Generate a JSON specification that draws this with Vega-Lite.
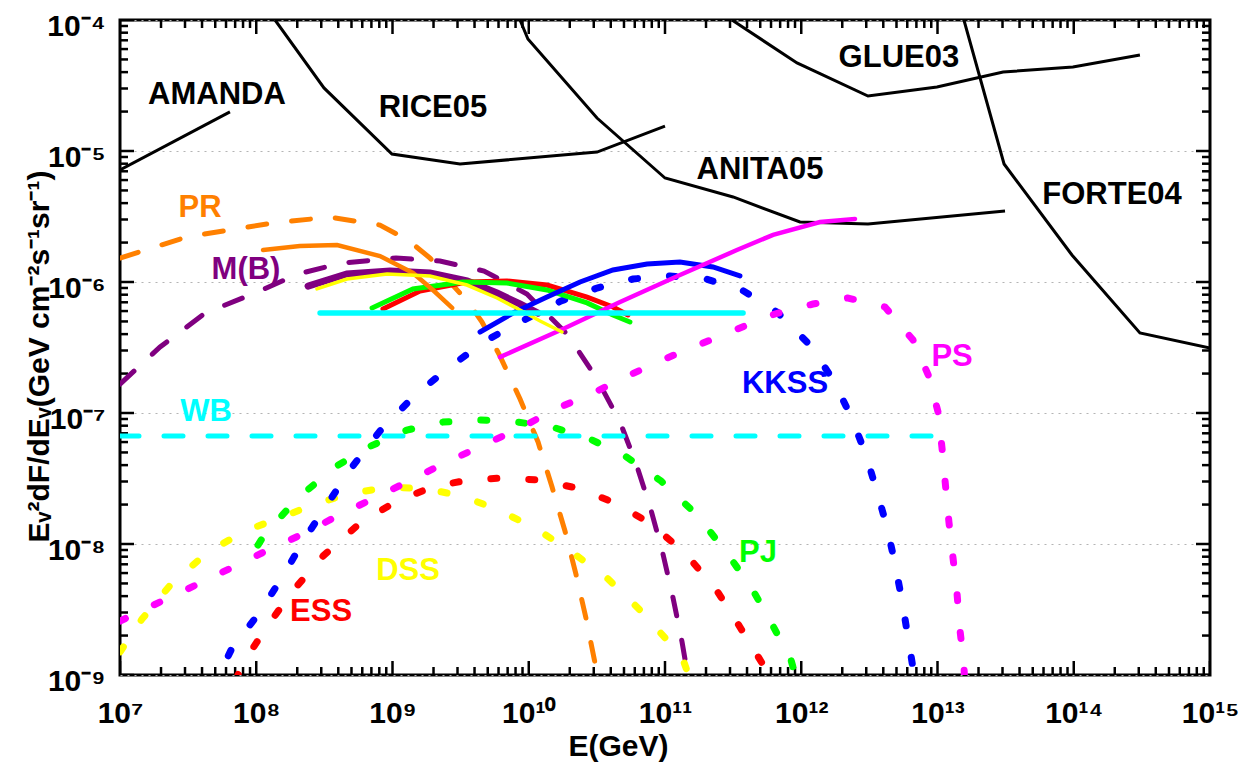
{
  "$schema": "https://vega.github.io/schema/vega-lite/v6.json",
  "width": 1090,
  "height": 655,
  "autosize": {"type": "none"},
  "padding": {"left": 120, "top": 20, "right": 38, "bottom": 94},
  "background": "white",
  "config": {"font": "Liberation Sans", "view": {"stroke": "black", "strokeWidth": 3}},
  "datasets": {
    "curves": [
      {"series": "AMANDA", "E": 1e7, "F": 7.16e-6},
      {"series": "AMANDA", "E": 6.41e7, "F": 1.99e-5},

      {"series": "RICE05", "E": 1.374e8, "F": 1e-4},
      {"series": "RICE05", "E": 3.14e8, "F": 3.03e-5},
      {"series": "RICE05", "E": 9.91e8, "F": 9.48e-6},
      {"series": "RICE05", "E": 3.13e9, "F": 7.96e-6},
      {"series": "RICE05", "E": 3.17e10, "F": 9.82e-6},
      {"series": "RICE05", "E": 1e11, "F": 1.55e-5},

      {"series": "ANITA05", "E": 8.63e9, "F": 1e-4},
      {"series": "ANITA05", "E": 9.86e9, "F": 7.16e-5},
      {"series": "ANITA05", "E": 3.17e10, "F": 1.786e-5},
      {"series": "ANITA05", "E": 1e11, "F": 6.22e-6},
      {"series": "ANITA05", "E": 3.16e11, "F": 4.46e-6},
      {"series": "ANITA05", "E": 9.79e11, "F": 2.87e-6},
      {"series": "ANITA05", "E": 3.09e12, "F": 2.77e-6},
      {"series": "ANITA05", "E": 3.13e13, "F": 3.48e-6},

      {"series": "GLUE03", "E": 3.10e11, "F": 1e-4},
      {"series": "GLUE03", "E": 9.31e11, "F": 4.70e-5},
      {"series": "GLUE03", "E": 3.09e12, "F": 2.63e-5},
      {"series": "GLUE03", "E": 9.91e12, "F": 3.08e-5},
      {"series": "GLUE03", "E": 3.03e13, "F": 4.01e-5},
      {"series": "GLUE03", "E": 9.86e13, "F": 4.38e-5},
      {"series": "GLUE03", "E": 3.06e14, "F": 5.41e-5},

      {"series": "FORTE04", "E": 1.563e13, "F": 1e-4},
      {"series": "FORTE04", "E": 3.08e13, "F": 7.96e-6},
      {"series": "FORTE04", "E": 9.70e13, "F": 1.607e-6},
      {"series": "FORTE04", "E": 3.06e14, "F": 4.08e-7},
      {"series": "FORTE04", "E": 1e15, "F": 3.13e-7},

      {"series": "PR dashed", "E": 1e7, "F": 1.524e-6},
      {"series": "PR dashed", "E": 3.10e7, "F": 2.21e-6},
      {"series": "PR dashed", "E": 1.327e8, "F": 2.82e-6},
      {"series": "PR dashed", "E": 3.48e8, "F": 3.13e-6},
      {"series": "PR dashed", "E": 8.09e8, "F": 2.72e-6},
      {"series": "PR dashed", "E": 1.30e9, "F": 2.09e-6},
      {"series": "PR dashed", "E": 1.884e9, "F": 1.524e-6},
      {"series": "PR dashed", "E": 2.64e9, "F": 1.0e-6},
      {"series": "PR dashed", "E": 3.58e9, "F": 7.03e-7},
      {"series": "PR dashed", "E": 4.54e9, "F": 4.95e-7},
      {"series": "PR dashed", "E": 6.15e9, "F": 2.72e-7},
      {"series": "PR dashed", "E": 8.63e9, "F": 1.28e-7},
      {"series": "PR dashed", "E": 1.170e10, "F": 6.01e-8},
      {"series": "PR dashed", "E": 1.483e10, "F": 2.72e-8},
      {"series": "PR dashed", "E": 1.845e10, "F": 1.256e-8},
      {"series": "PR dashed", "E": 2.22e10, "F": 5.90e-9},
      {"series": "PR dashed", "E": 2.63e10, "F": 2.72e-9},
      {"series": "PR dashed", "E": 3.17e10, "F": 1.035e-9},
      {"series": "PR dashed", "E": 3.33e10, "F": 7.67e-10},

      {"series": "M(B) dashed", "E": 1e7, "F": 1.663e-7},
      {"series": "M(B) dashed", "E": 1.968e7, "F": 3.19e-7},
      {"series": "M(B) dashed", "E": 4.21e7, "F": 5.79e-7},
      {"series": "M(B) dashed", "E": 9.79e7, "F": 8.24e-7},
      {"series": "M(B) dashed", "E": 2.02e8, "F": 1.151e-6},
      {"series": "M(B) dashed", "E": 4.26e8, "F": 1.396e-6},
      {"series": "M(B) dashed", "E": 1.062e9, "F": 1.524e-6},
      {"series": "M(B) dashed", "E": 2.23e9, "F": 1.445e-6},
      {"series": "M(B) dashed", "E": 4.70e9, "F": 1.213e-6},
      {"series": "M(B) dashed", "E": 9.70e9, "F": 8.09e-7},
      {"series": "M(B) dashed", "E": 1.941e10, "F": 3.94e-7},
      {"series": "M(B) dashed", "E": 3.17e10, "F": 1.82e-7},
      {"series": "M(B) dashed", "E": 4.68e10, "F": 8.53e-8},
      {"series": "M(B) dashed", "E": 6.22e10, "F": 3.94e-8},
      {"series": "M(B) dashed", "E": 7.89e10, "F": 1.82e-8},
      {"series": "M(B) dashed", "E": 9.66e10, "F": 8.39e-9},
      {"series": "M(B) dashed", "E": 1.146e11, "F": 3.87e-9},
      {"series": "M(B) dashed", "E": 1.334e11, "F": 1.786e-9},
      {"series": "M(B) dashed", "E": 1.426e11, "F": 1.19e-9},
      {"series": "M(B) dashed", "E": 1.476e11, "F": 7.67e-10},

      {"series": "WB dashed", "E": 1e7, "F": 6.67e-8},
      {"series": "WB dashed", "E": 9.1e12, "F": 6.67e-8},

      {"series": "ESS dashed", "E": 7.10e7, "F": 9.16e-10},
      {"series": "ESS dashed", "E": 7.85e7, "F": 1.19e-9},
      {"series": "ESS dashed", "E": 1.180e8, "F": 2.29e-9},
      {"series": "ESS dashed", "E": 1.828e8, "F": 4.31e-9},
      {"series": "ESS dashed", "E": 3.09e8, "F": 8.09e-9},
      {"series": "ESS dashed", "E": 5.68e8, "F": 1.422e-8},
      {"series": "ESS dashed", "E": 1.042e9, "F": 2.09e-8},
      {"series": "ESS dashed", "E": 1.950e9, "F": 2.72e-8},
      {"series": "ESS dashed", "E": 3.58e9, "F": 3.08e-8},
      {"series": "ESS dashed", "E": 6.47e9, "F": 3.19e-8},
      {"series": "ESS dashed", "E": 1.211e10, "F": 3.08e-8},
      {"series": "ESS dashed", "E": 2.26e10, "F": 2.67e-8},
      {"series": "ESS dashed", "E": 4.15e10, "F": 2.09e-8},
      {"series": "ESS dashed", "E": 7.76e10, "F": 1.445e-8},
      {"series": "ESS dashed", "E": 1.426e11, "F": 8.39e-9},
      {"series": "ESS dashed", "E": 2.41e11, "F": 4.38e-9},
      {"series": "ESS dashed", "E": 3.55e11, "F": 2.32e-9},
      {"series": "ESS dashed", "E": 5.15e11, "F": 1.236e-9},
      {"series": "ESS dashed", "E": 5.61e11, "F": 9.48e-10},

      {"series": "DSS dashed", "E": 1e7, "F": 1.50e-9},
      {"series": "DSS dashed", "E": 1.449e7, "F": 2.67e-9},
      {"series": "DSS dashed", "E": 2.41e7, "F": 5.04e-9},
      {"series": "DSS dashed", "E": 4.43e7, "F": 8.69e-9},
      {"series": "DSS dashed", "E": 8.26e7, "F": 1.256e-8},
      {"series": "DSS dashed", "E": 1.545e8, "F": 1.607e-8},
      {"series": "DSS dashed", "E": 2.84e8, "F": 2.06e-8},
      {"series": "DSS dashed", "E": 5.13e8, "F": 2.45e-8},
      {"series": "DSS dashed", "E": 9.59e8, "F": 2.72e-8},
      {"series": "DSS dashed", "E": 1.791e9, "F": 2.63e-8},
      {"series": "DSS dashed", "E": 3.29e9, "F": 2.32e-8},
      {"series": "DSS dashed", "E": 5.94e9, "F": 1.82e-8},
      {"series": "DSS dashed", "E": 1.112e10, "F": 1.324e-8},
      {"series": "DSS dashed", "E": 2.07e10, "F": 8.69e-9},
      {"series": "DSS dashed", "E": 3.82e10, "F": 5.41e-9},
      {"series": "DSS dashed", "E": 6.90e10, "F": 2.97e-9},
      {"series": "DSS dashed", "E": 1.183e11, "F": 1.578e-9},
      {"series": "DSS dashed", "E": 1.377e11, "F": 1.256e-9},
      {"series": "DSS dashed", "E": 1.578e11, "F": 8.39e-10},

      {"series": "PJ dashed", "E": 1.030e8, "F": 9.82e-9},
      {"series": "PJ dashed", "E": 1.159e8, "F": 1.191e-8},
      {"series": "PJ dashed", "E": 2.02e8, "F": 2.24e-8},
      {"series": "PJ dashed", "E": 3.78e8, "F": 3.87e-8},
      {"series": "PJ dashed", "E": 6.95e8, "F": 5.60e-8},
      {"series": "PJ dashed", "E": 1.276e9, "F": 7.41e-8},
      {"series": "PJ dashed", "E": 2.35e9, "F": 8.53e-8},
      {"series": "PJ dashed", "E": 4.39e9, "F": 8.85e-8},
      {"series": "PJ dashed", "E": 8.20e9, "F": 8.53e-8},
      {"series": "PJ dashed", "E": 1.483e10, "F": 7.82e-8},
      {"series": "PJ dashed", "E": 2.72e10, "F": 6.44e-8},
      {"series": "PJ dashed", "E": 5.09e10, "F": 4.70e-8},
      {"series": "PJ dashed", "E": 9.35e10, "F": 3.03e-8},
      {"series": "PJ dashed", "E": 1.718e11, "F": 1.663e-8},
      {"series": "PJ dashed", "E": 2.81e11, "F": 8.69e-9},
      {"series": "PJ dashed", "E": 4.28e11, "F": 4.70e-9},
      {"series": "PJ dashed", "E": 6.10e11, "F": 2.45e-9},
      {"series": "PJ dashed", "E": 8.41e11, "F": 1.303e-9},
      {"series": "PJ dashed", "E": 9.46e11, "F": 8.39e-10},

      {"series": "KKSS dashed", "E": 4.73e7, "F": 7.67e-10},
      {"series": "KKSS dashed", "E": 6.64e7, "F": 1.607e-9},
      {"series": "KKSS dashed", "E": 1.067e8, "F": 3.03e-9},
      {"series": "KKSS dashed", "E": 1.570e8, "F": 5.70e-9},
      {"series": "KKSS dashed", "E": 2.24e8, "F": 1.074e-8},
      {"series": "KKSS dashed", "E": 3.37e8, "F": 2.06e-8},
      {"series": "KKSS dashed", "E": 5.05e8, "F": 3.87e-8},
      {"series": "KKSS dashed", "E": 8.09e8, "F": 7.29e-8},
      {"series": "KKSS dashed", "E": 1.462e9, "F": 1.371e-7},
      {"series": "KKSS dashed", "E": 2.74e9, "F": 2.32e-7},
      {"series": "KKSS dashed", "E": 4.94e9, "F": 3.61e-7},
      {"series": "KKSS dashed", "E": 9.23e9, "F": 5.13e-7},
      {"series": "KKSS dashed", "E": 1.726e10, "F": 7.16e-7},
      {"series": "KKSS dashed", "E": 3.17e10, "F": 8.99e-7},
      {"series": "KKSS dashed", "E": 5.82e10, "F": 1.054e-6},
      {"series": "KKSS dashed", "E": 1.089e11, "F": 1.112e-6},
      {"series": "KKSS dashed", "E": 2.00e11, "F": 1.054e-6},
      {"series": "KKSS dashed", "E": 3.67e11, "F": 8.69e-7},
      {"series": "KKSS dashed", "E": 6.64e11, "F": 5.90e-7},
      {"series": "KKSS dashed", "E": 1.180e12, "F": 3.24e-7},
      {"series": "KKSS dashed", "E": 1.770e12, "F": 1.694e-7},
      {"series": "KKSS dashed", "E": 2.36e12, "F": 8.99e-8},
      {"series": "KKSS dashed", "E": 2.99e12, "F": 4.78e-8},
      {"series": "KKSS dashed", "E": 3.60e12, "F": 2.49e-8},
      {"series": "KKSS dashed", "E": 4.26e12, "F": 1.349e-8},
      {"series": "KKSS dashed", "E": 4.88e12, "F": 7.03e-9},
      {"series": "KKSS dashed", "E": 5.48e12, "F": 3.74e-9},
      {"series": "KKSS dashed", "E": 6.07e12, "F": 1.950e-9},
      {"series": "KKSS dashed", "E": 6.61e12, "F": 1.130e-9},
      {"series": "KKSS dashed", "E": 6.84e12, "F": 7.67e-10},

      {"series": "PS dashed", "E": 1e7, "F": 2.58e-9},
      {"series": "PS dashed", "E": 1.968e7, "F": 3.61e-9},
      {"series": "PS dashed", "E": 3.61e7, "F": 4.86e-9},
      {"series": "PS dashed", "E": 6.75e7, "F": 6.67e-9},
      {"series": "PS dashed", "E": 1.219e8, "F": 8.99e-9},
      {"series": "PS dashed", "E": 2.28e8, "F": 1.213e-8},
      {"series": "PS dashed", "E": 4.19e8, "F": 1.694e-8},
      {"series": "PS dashed", "E": 7.69e8, "F": 2.29e-8},
      {"series": "PS dashed", "E": 1.413e9, "F": 3.13e-8},
      {"series": "PS dashed", "E": 2.60e9, "F": 4.31e-8},
      {"series": "PS dashed", "E": 4.85e9, "F": 5.79e-8},
      {"series": "PS dashed", "E": 8.91e9, "F": 7.82e-8},
      {"series": "PS dashed", "E": 1.641e10, "F": 1.091e-7},
      {"series": "PS dashed", "E": 3.06e10, "F": 1.445e-7},
      {"series": "PS dashed", "E": 5.73e10, "F": 1.986e-7},
      {"series": "PS dashed", "E": 1.035e11, "F": 2.63e-7},
      {"series": "PS dashed", "E": 1.901e11, "F": 3.42e-7},
      {"series": "PS dashed", "E": 3.55e11, "F": 4.46e-7},
      {"series": "PS dashed", "E": 6.41e11, "F": 5.70e-7},
      {"series": "PS dashed", "E": 1.219e12, "F": 6.79e-7},
      {"series": "PS dashed", "E": 2.20e12, "F": 7.55e-7},
      {"series": "PS dashed", "E": 4.12e12, "F": 6.44e-7},
      {"series": "PS dashed", "E": 6.61e12, "F": 3.61e-7},
      {"series": "PS dashed", "E": 8.67e12, "F": 1.884e-7},
      {"series": "PS dashed", "E": 1.009e13, "F": 1.019e-7},
      {"series": "PS dashed", "E": 1.079e13, "F": 5.41e-8},
      {"series": "PS dashed", "E": 1.153e13, "F": 2.58e-8},
      {"series": "PS dashed", "E": 1.213e13, "F": 1.472e-8},
      {"series": "PS dashed", "E": 1.300e13, "F": 7.82e-9},
      {"series": "PS dashed", "E": 1.390e13, "F": 4.23e-9},
      {"series": "PS dashed", "E": 1.462e13, "F": 2.21e-9},
      {"series": "PS dashed", "E": 1.563e13, "F": 1.19e-9},
      {"series": "PS dashed", "E": 1.592e13, "F": 7.67e-10},

      {"series": "PR solid", "E": 1.122e8, "F": 1.754e-6},
      {"series": "PR solid", "E": 2.09e8, "F": 1.884e-6},
      {"series": "PR solid", "E": 3.92e8, "F": 1.914e-6},
      {"series": "PR solid", "E": 8.09e8, "F": 1.578e-6},
      {"series": "PR solid", "E": 1.413e9, "F": 1.172e-6},
      {"series": "PR solid", "E": 1.98e9, "F": 8.69e-7},
      {"series": "PR solid", "E": 2.74e9, "F": 6.34e-7},

      {"series": "M(B) solid", "E": 2.40e8, "F": 9.31e-7},
      {"series": "M(B) solid", "E": 4.63e8, "F": 1.151e-6},
      {"series": "M(B) solid", "E": 9.59e8, "F": 1.213e-6},
      {"series": "M(B) solid", "E": 1.884e9, "F": 1.172e-6},
      {"series": "M(B) solid", "E": 3.52e9, "F": 1.019e-6},
      {"series": "M(B) solid", "E": 5.85e9, "F": 8.24e-7},
      {"series": "M(B) solid", "E": 8.63e9, "F": 6.79e-7},
      {"series": "M(B) solid", "E": 1.170e10, "F": 5.79e-7},

      {"series": "DSS solid", "E": 2.79e8, "F": 8.85e-7},
      {"series": "DSS solid", "E": 4.63e8, "F": 1.054e-6},
      {"series": "DSS solid", "E": 9.12e8, "F": 1.151e-6},
      {"series": "DSS solid", "E": 1.884e9, "F": 1.112e-6},
      {"series": "DSS solid", "E": 3.52e9, "F": 9.48e-7},
      {"series": "DSS solid", "E": 5.85e9, "F": 7.55e-7},
      {"series": "DSS solid", "E": 8.63e9, "F": 6.11e-7},
      {"series": "DSS solid", "E": 1.211e10, "F": 5.04e-7},
      {"series": "DSS solid", "E": 1.754e10, "F": 4.15e-7},

      {"series": "ESS solid", "E": 8.51e8, "F": 6.22e-7},
      {"series": "ESS solid", "E": 1.592e9, "F": 8.53e-7},
      {"series": "ESS solid", "E": 3.52e9, "F": 1.0e-6},
      {"series": "ESS solid", "E": 6.92e9, "F": 1.019e-6},
      {"series": "ESS solid", "E": 1.361e10, "F": 9.48e-7},
      {"series": "ESS solid", "E": 2.68e10, "F": 7.67e-7},
      {"series": "ESS solid", "E": 4.15e10, "F": 6.44e-7},
      {"series": "ESS solid", "E": 5.35e10, "F": 5.60e-7},

      {"series": "PJ solid", "E": 7.08e8, "F": 6.34e-7},
      {"series": "PJ solid", "E": 1.413e9, "F": 8.85e-7},
      {"series": "PJ solid", "E": 3.29e9, "F": 1.0e-6},
      {"series": "PJ solid", "E": 6.92e9, "F": 9.82e-7},
      {"series": "PJ solid", "E": 1.361e10, "F": 8.69e-7},
      {"series": "PJ solid", "E": 2.68e10, "F": 6.92e-7},
      {"series": "PJ solid", "E": 4.15e10, "F": 5.60e-7},
      {"series": "PJ solid", "E": 5.53e10, "F": 4.95e-7},

      {"series": "KKSS solid", "E": 4.39e9, "F": 4.15e-7},
      {"series": "KKSS solid", "E": 7.66e9, "F": 5.79e-7},
      {"series": "KKSS solid", "E": 1.361e10, "F": 7.67e-7},
      {"series": "KKSS solid", "E": 2.38e10, "F": 1.0e-6},
      {"series": "KKSS solid", "E": 4.15e10, "F": 1.236e-6},
      {"series": "KKSS solid", "E": 7.38e10, "F": 1.371e-6},
      {"series": "KKSS solid", "E": 1.288e11, "F": 1.422e-6},
      {"series": "KKSS solid", "E": 2.25e11, "F": 1.303e-6},
      {"series": "KKSS solid", "E": 3.55e11, "F": 1.112e-6},

      {"series": "PS solid", "E": 6.15e9, "F": 2.67e-7},
      {"series": "PS solid", "E": 1.782e10, "F": 4.38e-7},
      {"series": "PS solid", "E": 4.68e10, "F": 7.03e-7},
      {"series": "PS solid", "E": 1.288e11, "F": 1.130e-6},
      {"series": "PS solid", "E": 3.37e11, "F": 1.754e-6},
      {"series": "PS solid", "E": 6.21e11, "F": 2.29e-6},
      {"series": "PS solid", "E": 1.374e12, "F": 2.87e-6},
      {"series": "PS solid", "E": 2.48e12, "F": 3.03e-6},

      {"series": "WB solid", "E": 2.94e8, "F": 5.79e-7},
      {"series": "WB solid", "E": 3.74e11, "F": 5.79e-7}
    ],
    "labels": [
      {"label": "AMANDA", "series": "AMANDA", "E": 5.15e7, "F": 2.67e-5},
      {"label": "RICE05", "series": "RICE05", "E": 1.98e9, "F": 2.13e-5},
      {"label": "ANITA05", "series": "ANITA05", "E": 4.98e11, "F": 7.16e-6},
      {"label": "GLUE03", "series": "GLUE03", "E": 5.21e12, "F": 5.13e-5},
      {"label": "FORTE04", "series": "FORTE04", "E": 1.91e14, "F": 4.61e-6},
      {"label": "PR", "series": "PR dashed", "E": 3.87e7, "F": 3.67e-6},
      {"label": "M(B)", "series": "M(B) dashed", "E": 8.41e7, "F": 1.24e-6},
      {"label": "WB", "series": "WB dashed", "E": 4.28e7, "F": 1.02e-7},
      {"label": "DSS", "series": "DSS dashed", "E": 1.30e9, "F": 6.22e-9},
      {"label": "ESS", "series": "ESS dashed", "E": 2.99e8, "F": 3.03e-9},
      {"label": "PJ", "series": "PJ dashed", "E": 4.82e11, "F": 8.53e-9},
      {"label": "KKSS", "series": "KKSS dashed", "E": 7.60e11, "F": 1.66e-7},
      {"label": "PS", "series": "PS dashed", "E": 1.28e13, "F": 2.67e-7}
    ],
    "xticks": [
      {"E": 1e7, "F": 1e-9, "kind": "major"}, {"E": 1e8, "F": 1e-9, "kind": "major"}, {"E": 1e9, "F": 1e-9, "kind": "major"}, {"E": 1e10, "F": 1e-9, "kind": "major"}, {"E": 1e11, "F": 1e-9, "kind": "major"}, {"E": 1e12, "F": 1e-9, "kind": "major"}, {"E": 1e13, "F": 1e-9, "kind": "major"}, {"E": 1e14, "F": 1e-9, "kind": "major"}, {"E": 1e15, "F": 1e-9, "kind": "major"},
      {"E": 1e7, "F": 1e-4, "kind": "major"}, {"E": 1e8, "F": 1e-4, "kind": "major"}, {"E": 1e9, "F": 1e-4, "kind": "major"}, {"E": 1e10, "F": 1e-4, "kind": "major"}, {"E": 1e11, "F": 1e-4, "kind": "major"}, {"E": 1e12, "F": 1e-4, "kind": "major"}, {"E": 1e13, "F": 1e-4, "kind": "major"}, {"E": 1e14, "F": 1e-4, "kind": "major"}, {"E": 1e15, "F": 1e-4, "kind": "major"},
      {"E": 2e7, "F": 1e-9, "kind": "minor"}, {"E": 3e7, "F": 1e-9, "kind": "minor"}, {"E": 4e7, "F": 1e-9, "kind": "minor"}, {"E": 5e7, "F": 1e-9, "kind": "minor"}, {"E": 6e7, "F": 1e-9, "kind": "minor"}, {"E": 7e7, "F": 1e-9, "kind": "minor"}, {"E": 8e7, "F": 1e-9, "kind": "minor"}, {"E": 9e7, "F": 1e-9, "kind": "minor"},
      {"E": 2e8, "F": 1e-9, "kind": "minor"}, {"E": 3e8, "F": 1e-9, "kind": "minor"}, {"E": 4e8, "F": 1e-9, "kind": "minor"}, {"E": 5e8, "F": 1e-9, "kind": "minor"}, {"E": 6e8, "F": 1e-9, "kind": "minor"}, {"E": 7e8, "F": 1e-9, "kind": "minor"}, {"E": 8e8, "F": 1e-9, "kind": "minor"}, {"E": 9e8, "F": 1e-9, "kind": "minor"},
      {"E": 2e9, "F": 1e-9, "kind": "minor"}, {"E": 3e9, "F": 1e-9, "kind": "minor"}, {"E": 4e9, "F": 1e-9, "kind": "minor"}, {"E": 5e9, "F": 1e-9, "kind": "minor"}, {"E": 6e9, "F": 1e-9, "kind": "minor"}, {"E": 7e9, "F": 1e-9, "kind": "minor"}, {"E": 8e9, "F": 1e-9, "kind": "minor"}, {"E": 9e9, "F": 1e-9, "kind": "minor"},
      {"E": 2e10, "F": 1e-9, "kind": "minor"}, {"E": 3e10, "F": 1e-9, "kind": "minor"}, {"E": 4e10, "F": 1e-9, "kind": "minor"}, {"E": 5e10, "F": 1e-9, "kind": "minor"}, {"E": 6e10, "F": 1e-9, "kind": "minor"}, {"E": 7e10, "F": 1e-9, "kind": "minor"}, {"E": 8e10, "F": 1e-9, "kind": "minor"}, {"E": 9e10, "F": 1e-9, "kind": "minor"},
      {"E": 2e11, "F": 1e-9, "kind": "minor"}, {"E": 3e11, "F": 1e-9, "kind": "minor"}, {"E": 4e11, "F": 1e-9, "kind": "minor"}, {"E": 5e11, "F": 1e-9, "kind": "minor"}, {"E": 6e11, "F": 1e-9, "kind": "minor"}, {"E": 7e11, "F": 1e-9, "kind": "minor"}, {"E": 8e11, "F": 1e-9, "kind": "minor"}, {"E": 9e11, "F": 1e-9, "kind": "minor"},
      {"E": 2e12, "F": 1e-9, "kind": "minor"}, {"E": 3e12, "F": 1e-9, "kind": "minor"}, {"E": 4e12, "F": 1e-9, "kind": "minor"}, {"E": 5e12, "F": 1e-9, "kind": "minor"}, {"E": 6e12, "F": 1e-9, "kind": "minor"}, {"E": 7e12, "F": 1e-9, "kind": "minor"}, {"E": 8e12, "F": 1e-9, "kind": "minor"}, {"E": 9e12, "F": 1e-9, "kind": "minor"},
      {"E": 2e13, "F": 1e-9, "kind": "minor"}, {"E": 3e13, "F": 1e-9, "kind": "minor"}, {"E": 4e13, "F": 1e-9, "kind": "minor"}, {"E": 5e13, "F": 1e-9, "kind": "minor"}, {"E": 6e13, "F": 1e-9, "kind": "minor"}, {"E": 7e13, "F": 1e-9, "kind": "minor"}, {"E": 8e13, "F": 1e-9, "kind": "minor"}, {"E": 9e13, "F": 1e-9, "kind": "minor"},
      {"E": 2e14, "F": 1e-9, "kind": "minor"}, {"E": 3e14, "F": 1e-9, "kind": "minor"}, {"E": 4e14, "F": 1e-9, "kind": "minor"}, {"E": 5e14, "F": 1e-9, "kind": "minor"}, {"E": 6e14, "F": 1e-9, "kind": "minor"}, {"E": 7e14, "F": 1e-9, "kind": "minor"}, {"E": 8e14, "F": 1e-9, "kind": "minor"}, {"E": 9e14, "F": 1e-9, "kind": "minor"},
      {"E": 2e7, "F": 1e-4, "kind": "minor"}, {"E": 3e7, "F": 1e-4, "kind": "minor"}, {"E": 4e7, "F": 1e-4, "kind": "minor"}, {"E": 5e7, "F": 1e-4, "kind": "minor"}, {"E": 6e7, "F": 1e-4, "kind": "minor"}, {"E": 7e7, "F": 1e-4, "kind": "minor"}, {"E": 8e7, "F": 1e-4, "kind": "minor"}, {"E": 9e7, "F": 1e-4, "kind": "minor"},
      {"E": 2e8, "F": 1e-4, "kind": "minor"}, {"E": 3e8, "F": 1e-4, "kind": "minor"}, {"E": 4e8, "F": 1e-4, "kind": "minor"}, {"E": 5e8, "F": 1e-4, "kind": "minor"}, {"E": 6e8, "F": 1e-4, "kind": "minor"}, {"E": 7e8, "F": 1e-4, "kind": "minor"}, {"E": 8e8, "F": 1e-4, "kind": "minor"}, {"E": 9e8, "F": 1e-4, "kind": "minor"},
      {"E": 2e9, "F": 1e-4, "kind": "minor"}, {"E": 3e9, "F": 1e-4, "kind": "minor"}, {"E": 4e9, "F": 1e-4, "kind": "minor"}, {"E": 5e9, "F": 1e-4, "kind": "minor"}, {"E": 6e9, "F": 1e-4, "kind": "minor"}, {"E": 7e9, "F": 1e-4, "kind": "minor"}, {"E": 8e9, "F": 1e-4, "kind": "minor"}, {"E": 9e9, "F": 1e-4, "kind": "minor"},
      {"E": 2e10, "F": 1e-4, "kind": "minor"}, {"E": 3e10, "F": 1e-4, "kind": "minor"}, {"E": 4e10, "F": 1e-4, "kind": "minor"}, {"E": 5e10, "F": 1e-4, "kind": "minor"}, {"E": 6e10, "F": 1e-4, "kind": "minor"}, {"E": 7e10, "F": 1e-4, "kind": "minor"}, {"E": 8e10, "F": 1e-4, "kind": "minor"}, {"E": 9e10, "F": 1e-4, "kind": "minor"},
      {"E": 2e11, "F": 1e-4, "kind": "minor"}, {"E": 3e11, "F": 1e-4, "kind": "minor"}, {"E": 4e11, "F": 1e-4, "kind": "minor"}, {"E": 5e11, "F": 1e-4, "kind": "minor"}, {"E": 6e11, "F": 1e-4, "kind": "minor"}, {"E": 7e11, "F": 1e-4, "kind": "minor"}, {"E": 8e11, "F": 1e-4, "kind": "minor"}, {"E": 9e11, "F": 1e-4, "kind": "minor"},
      {"E": 2e12, "F": 1e-4, "kind": "minor"}, {"E": 3e12, "F": 1e-4, "kind": "minor"}, {"E": 4e12, "F": 1e-4, "kind": "minor"}, {"E": 5e12, "F": 1e-4, "kind": "minor"}, {"E": 6e12, "F": 1e-4, "kind": "minor"}, {"E": 7e12, "F": 1e-4, "kind": "minor"}, {"E": 8e12, "F": 1e-4, "kind": "minor"}, {"E": 9e12, "F": 1e-4, "kind": "minor"},
      {"E": 2e13, "F": 1e-4, "kind": "minor"}, {"E": 3e13, "F": 1e-4, "kind": "minor"}, {"E": 4e13, "F": 1e-4, "kind": "minor"}, {"E": 5e13, "F": 1e-4, "kind": "minor"}, {"E": 6e13, "F": 1e-4, "kind": "minor"}, {"E": 7e13, "F": 1e-4, "kind": "minor"}, {"E": 8e13, "F": 1e-4, "kind": "minor"}, {"E": 9e13, "F": 1e-4, "kind": "minor"},
      {"E": 2e14, "F": 1e-4, "kind": "minor"}, {"E": 3e14, "F": 1e-4, "kind": "minor"}, {"E": 4e14, "F": 1e-4, "kind": "minor"}, {"E": 5e14, "F": 1e-4, "kind": "minor"}, {"E": 6e14, "F": 1e-4, "kind": "minor"}, {"E": 7e14, "F": 1e-4, "kind": "minor"}, {"E": 8e14, "F": 1e-4, "kind": "minor"}, {"E": 9e14, "F": 1e-4, "kind": "minor"}
    ],
    "yticks": [
      {"E": 1e7, "F": 1e-9, "kind": "major"}, {"E": 1e7, "F": 1e-8, "kind": "major"}, {"E": 1e7, "F": 1e-7, "kind": "major"}, {"E": 1e7, "F": 1e-6, "kind": "major"}, {"E": 1e7, "F": 1e-5, "kind": "major"}, {"E": 1e7, "F": 1e-4, "kind": "major"},
      {"E": 1e15, "F": 1e-9, "kind": "major"}, {"E": 1e15, "F": 1e-8, "kind": "major"}, {"E": 1e15, "F": 1e-7, "kind": "major"}, {"E": 1e15, "F": 1e-6, "kind": "major"}, {"E": 1e15, "F": 1e-5, "kind": "major"}, {"E": 1e15, "F": 1e-4, "kind": "major"},
      {"E": 1e7, "F": 2e-9, "kind": "minor"}, {"E": 1e7, "F": 3e-9, "kind": "minor"}, {"E": 1e7, "F": 4e-9, "kind": "minor"}, {"E": 1e7, "F": 5e-9, "kind": "minor"}, {"E": 1e7, "F": 6e-9, "kind": "minor"}, {"E": 1e7, "F": 7e-9, "kind": "minor"}, {"E": 1e7, "F": 8e-9, "kind": "minor"}, {"E": 1e7, "F": 9e-9, "kind": "minor"},
      {"E": 1e7, "F": 2e-8, "kind": "minor"}, {"E": 1e7, "F": 3e-8, "kind": "minor"}, {"E": 1e7, "F": 4e-8, "kind": "minor"}, {"E": 1e7, "F": 5e-8, "kind": "minor"}, {"E": 1e7, "F": 6e-8, "kind": "minor"}, {"E": 1e7, "F": 7e-8, "kind": "minor"}, {"E": 1e7, "F": 8e-8, "kind": "minor"}, {"E": 1e7, "F": 9e-8, "kind": "minor"},
      {"E": 1e7, "F": 2e-7, "kind": "minor"}, {"E": 1e7, "F": 3e-7, "kind": "minor"}, {"E": 1e7, "F": 4e-7, "kind": "minor"}, {"E": 1e7, "F": 5e-7, "kind": "minor"}, {"E": 1e7, "F": 6e-7, "kind": "minor"}, {"E": 1e7, "F": 7e-7, "kind": "minor"}, {"E": 1e7, "F": 8e-7, "kind": "minor"}, {"E": 1e7, "F": 9e-7, "kind": "minor"},
      {"E": 1e7, "F": 2e-6, "kind": "minor"}, {"E": 1e7, "F": 3e-6, "kind": "minor"}, {"E": 1e7, "F": 4e-6, "kind": "minor"}, {"E": 1e7, "F": 5e-6, "kind": "minor"}, {"E": 1e7, "F": 6e-6, "kind": "minor"}, {"E": 1e7, "F": 7e-6, "kind": "minor"}, {"E": 1e7, "F": 8e-6, "kind": "minor"}, {"E": 1e7, "F": 9e-6, "kind": "minor"},
      {"E": 1e7, "F": 2e-5, "kind": "minor"}, {"E": 1e7, "F": 3e-5, "kind": "minor"}, {"E": 1e7, "F": 4e-5, "kind": "minor"}, {"E": 1e7, "F": 5e-5, "kind": "minor"}, {"E": 1e7, "F": 6e-5, "kind": "minor"}, {"E": 1e7, "F": 7e-5, "kind": "minor"}, {"E": 1e7, "F": 8e-5, "kind": "minor"}, {"E": 1e7, "F": 9e-5, "kind": "minor"},
      {"E": 1e15, "F": 2e-9, "kind": "minor"}, {"E": 1e15, "F": 3e-9, "kind": "minor"}, {"E": 1e15, "F": 4e-9, "kind": "minor"}, {"E": 1e15, "F": 5e-9, "kind": "minor"}, {"E": 1e15, "F": 6e-9, "kind": "minor"}, {"E": 1e15, "F": 7e-9, "kind": "minor"}, {"E": 1e15, "F": 8e-9, "kind": "minor"}, {"E": 1e15, "F": 9e-9, "kind": "minor"},
      {"E": 1e15, "F": 2e-8, "kind": "minor"}, {"E": 1e15, "F": 3e-8, "kind": "minor"}, {"E": 1e15, "F": 4e-8, "kind": "minor"}, {"E": 1e15, "F": 5e-8, "kind": "minor"}, {"E": 1e15, "F": 6e-8, "kind": "minor"}, {"E": 1e15, "F": 7e-8, "kind": "minor"}, {"E": 1e15, "F": 8e-8, "kind": "minor"}, {"E": 1e15, "F": 9e-8, "kind": "minor"},
      {"E": 1e15, "F": 2e-7, "kind": "minor"}, {"E": 1e15, "F": 3e-7, "kind": "minor"}, {"E": 1e15, "F": 4e-7, "kind": "minor"}, {"E": 1e15, "F": 5e-7, "kind": "minor"}, {"E": 1e15, "F": 6e-7, "kind": "minor"}, {"E": 1e15, "F": 7e-7, "kind": "minor"}, {"E": 1e15, "F": 8e-7, "kind": "minor"}, {"E": 1e15, "F": 9e-7, "kind": "minor"},
      {"E": 1e15, "F": 2e-6, "kind": "minor"}, {"E": 1e15, "F": 3e-6, "kind": "minor"}, {"E": 1e15, "F": 4e-6, "kind": "minor"}, {"E": 1e15, "F": 5e-6, "kind": "minor"}, {"E": 1e15, "F": 6e-6, "kind": "minor"}, {"E": 1e15, "F": 7e-6, "kind": "minor"}, {"E": 1e15, "F": 8e-6, "kind": "minor"}, {"E": 1e15, "F": 9e-6, "kind": "minor"},
      {"E": 1e15, "F": 2e-5, "kind": "minor"}, {"E": 1e15, "F": 3e-5, "kind": "minor"}, {"E": 1e15, "F": 4e-5, "kind": "minor"}, {"E": 1e15, "F": 5e-5, "kind": "minor"}, {"E": 1e15, "F": 6e-5, "kind": "minor"}, {"E": 1e15, "F": 7e-5, "kind": "minor"}, {"E": 1e15, "F": 8e-5, "kind": "minor"}, {"E": 1e15, "F": 9e-5, "kind": "minor"}
    ]
  },
  "encoding": {
    "x": {
      "field": "E", "type": "quantitative",
      "scale": {"type": "log", "domain": [1e7, 1e15], "nice": false},
      "axis": {
        "orient": "bottom", "domain": false, "ticks": false,
        "values": [1e7, 1e8, 1e9, 1e10, 1e11, 1e12, 1e13, 1e14, 1e15],
        "labelExpr": "datum.value == 1e7 ? '10⁷' : datum.value == 1e8 ? '10⁸' : datum.value == 1e9 ? '10⁹' : datum.value == 1e10 ? '10¹⁰' : datum.value == 1e11 ? '10¹¹' : datum.value == 1e12 ? '10¹²' : datum.value == 1e13 ? '10¹³' : datum.value == 1e14 ? '10¹⁴' : '10¹⁵'",
        "labelFontSize": 30, "labelFontWeight": "bold", "labelColor": "black",
        "labelPadding": 23, "labelFlush": false, "labelOverlap": false, "labelBound": false,
        "grid": false,
        "title": "E(GeV)", "titleFontSize": 30, "titleFontWeight": "bold", "titleColor": "black",
        "titleX": 498, "titleY": 71, "titleAlign": "center", "titleBaseline": "middle"
      }
    },
    "y": {
      "field": "F", "type": "quantitative",
      "scale": {"type": "log", "domain": [1e-9, 1e-4], "nice": false},
      "axis": {
        "orient": "left", "domain": false, "ticks": false,
        "values": [1e-9, 1e-8, 1e-7, 1e-6, 1e-5, 1e-4],
        "labelExpr": "datum.value == 1e-4 ? '10⁻⁴' : datum.value == 1e-5 ? '10⁻⁵' : datum.value == 1e-6 ? '10⁻⁶' : datum.value == 1e-7 ? '10⁻⁷' : datum.value == 1e-8 ? '10⁻⁸' : '10⁻⁹'",
        "labelFontSize": 30, "labelFontWeight": "bold", "labelColor": "black",
        "labelPadding": 15, "labelOffset": 6, "labelFlush": false, "labelOverlap": false, "labelBound": false,
        "grid": true, "gridColor": "#b4b4b4", "gridWidth": 1.2, "gridDash": [2, 5],
        "title": "Eᵥ²dF/dEᵥ(GeV cm⁻²s⁻¹sr⁻¹)", "titleFontSize": 30, "titleFontWeight": "bold", "titleColor": "black",
        "titleAngle": 270, "titleX": -81, "titleY": 336, "titleAlign": "center", "titleBaseline": "middle"
      }
    },
    "color": {
      "field": "series",
      "type": "nominal",
      "legend": null,
      "scale": {
        "domain": ["AMANDA", "RICE05", "ANITA05", "GLUE03", "FORTE04",
                   "PR dashed", "M(B) dashed", "WB dashed", "ESS dashed", "DSS dashed", "PJ dashed", "KKSS dashed", "PS dashed",
                   "PR solid", "M(B) solid", "DSS solid", "ESS solid", "PJ solid", "KKSS solid", "PS solid", "WB solid"],
        "range": ["#000000", "#000000", "#000000", "#000000", "#000000",
                  "#FF8000", "#800080", "#00FFFF", "#FF0000", "#FFFF00", "#00FF00", "#0000FF", "#FF00FF",
                  "#FF8000", "#800080", "#FFFF00", "#FF0000", "#00FF00", "#0000FF", "#FF00FF", "#00FFFF"]
      }
    }
  },
  "layer": [
    {
      "data": {"name": "curves"},
      "transform": [{"filter": {"field": "series", "oneOf": ["AMANDA", "RICE05", "ANITA05", "GLUE03", "FORTE04"]}}],
      "mark": {"type": "line", "strokeWidth": 3, "clip": true}
    },
    {
      "data": {"name": "xticks"},
      "transform": [{"filter": {"field": "kind", "equal": "major"}}],
      "mark": {"type": "tick", "orient": "vertical", "size": 28, "thickness": 2.5, "opacity": 1, "clip": true},
      "encoding": {"color": {"value": "black"}}
    },
    {
      "data": {"name": "xticks"},
      "transform": [{"filter": {"field": "kind", "equal": "minor"}}],
      "mark": {"type": "tick", "orient": "vertical", "size": 16, "thickness": 2.5, "opacity": 1, "clip": true},
      "encoding": {"color": {"value": "black"}}
    },
    {
      "data": {"name": "yticks"},
      "transform": [{"filter": {"field": "kind", "equal": "major"}}],
      "mark": {"type": "tick", "orient": "horizontal", "size": 28, "thickness": 2.5, "opacity": 1, "clip": true},
      "encoding": {"color": {"value": "black"}}
    },
    {
      "data": {"name": "yticks"},
      "transform": [{"filter": {"field": "kind", "equal": "minor"}}],
      "mark": {"type": "tick", "orient": "horizontal", "size": 16, "thickness": 2.5, "opacity": 1, "clip": true},
      "encoding": {"color": {"value": "black"}}
    },
    {
      "data": {"name": "curves"},
      "transform": [{"filter": {"field": "series", "oneOf": ["PR dashed", "M(B) dashed", "WB dashed"]}}],
      "mark": {"type": "line", "strokeWidth": 5, "strokeDash": [19, 25], "strokeCap": "round", "clip": true}
    },
    {
      "data": {"name": "curves"},
      "transform": [{"filter": {"field": "series", "oneOf": ["ESS dashed", "DSS dashed", "PJ dashed", "KKSS dashed", "PS dashed"]}}],
      "mark": {"type": "line", "strokeWidth": 7, "strokeDash": [6, 32], "strokeCap": "round", "clip": true}
    },
    {
      "data": {"name": "curves"},
      "transform": [{"filter": {"field": "series", "equal": "M(B) solid"}}],
      "mark": {"type": "line", "strokeWidth": 7, "strokeCap": "round", "clip": true}
    },
    {
      "data": {"name": "curves"},
      "transform": [{"filter": {"field": "series", "oneOf": ["ESS solid", "PJ solid", "KKSS solid"]}}],
      "mark": {"type": "line", "strokeWidth": 5, "strokeCap": "round", "clip": true}
    },
    {
      "data": {"name": "curves"},
      "transform": [{"filter": {"field": "series", "oneOf": ["PR solid", "PS solid"]}}],
      "mark": {"type": "line", "strokeWidth": 4.5, "strokeCap": "round", "clip": true}
    },
    {
      "data": {"name": "curves"},
      "transform": [{"filter": {"field": "series", "equal": "DSS solid"}}],
      "mark": {"type": "line", "strokeWidth": 3.5, "strokeCap": "round", "clip": true}
    },
    {
      "data": {"name": "curves"},
      "transform": [{"filter": {"field": "series", "equal": "WB solid"}}],
      "mark": {"type": "line", "strokeWidth": 5.5, "strokeCap": "round", "clip": true}
    },
    {
      "data": {"name": "labels"},
      "mark": {"type": "text", "fontSize": 31, "fontWeight": "bold", "align": "center", "baseline": "middle"},
      "encoding": {"text": {"field": "label", "type": "nominal"}}
    }
  ]
}
